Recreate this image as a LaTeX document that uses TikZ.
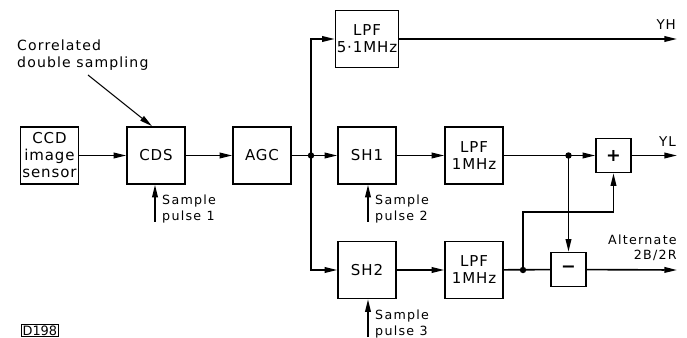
\documentclass[tikz,border=0pt]{standalone}
\usepackage{fontspec}
\setmainfont{DejaVu Sans}[LetterSpace=6]
\usetikzlibrary{arrows.meta,positioning}

\begin{document}
\begin{tikzpicture}[
    x=0.03cm, y=-0.03cm,
    block/.style={rectangle, draw, line width=1.4pt, minimum width=1.74cm, minimum height=1.71cm, align=center, inner sep=1pt, font=\fontsize{12.8}{14.5}\selectfont},
    smallbox/.style={rectangle, draw, line width=1.4pt, minimum width=1.05cm, minimum height=1.02cm, inner sep=0pt, font=\fontsize{15}{15}\selectfont\bfseries},
    note/.style={align=left, inner sep=0pt, font=\fontsize{10.8}{13}\selectfont\addfontfeatures{LetterSpace=10}},
    arrow/.style={-{Triangle[length=3.8mm, width=1.7mm]}, line width=1.4pt},
    line/.style={line width=1.4pt},
    dot/.style={circle, fill, inner sep=0pt, minimum size=5.5pt}
]
\useasboundingbox (0,0) rectangle (687,338);

% Main chain
\node[block] (ccd) at (49.5,155.5) {CCD\\image\\sensor};
\node[block] (cds) at (156,155.5) {CDS};
\node[block] (agc) at (262,155.5) {AGC};

% Three branches
\node[block] (lpfh) at (367,39) {LPF\\5·1MHz};
\node[block] (sh1) at (367,155.5) {SH1};
\node[block] (lpfa) at (474,155.5) {LPF\\1MHz};
\node[block] (sh2) at (367,270) {SH2};
\node[block] (lpfb) at (474,270) {LPF\\1MHz};
\node[smallbox] (add) at (613.5,155.5) {+};
\node[smallbox] (sub) at (568.5,269.5) {−};

% Junctions and outputs
\node[dot] (j1) at (311,155.5) {};
\node[dot] (j2) at (568.5,155.5) {};
\node[dot] (j3) at (523,270) {};
\coordinate (yh) at (677,39);
\coordinate (yl) at (677,155.5);
\coordinate (alt) at (677,270);

% Connections
\draw[arrow] (ccd) -- (cds);
\draw[arrow] (cds) -- (agc);
\draw[line] (agc) -- (j1.center);
\draw[arrow] (j1.center) -- (sh1);
\draw[arrow] (j1.center) |- (lpfh);
\draw[arrow] (j1.center) |- (sh2);
\draw[arrow] (lpfh) -- (yh);
\draw[arrow] (sh1) -- (lpfa);
\draw[arrow] (lpfa) -- (add);
\draw[arrow] (add) -- (yl);
\draw[arrow] (j2.center) -- (sub);
\draw[arrow] (sh2) -- (lpfb);
\draw[line] (lpfb) -- (sub);
\draw[arrow] (sub) -- (alt);
\draw[arrow] (j3.center) -- ++(0,-58) -| (add);

% Sample pulses
\coordinate (sp1) at (155,222);
\coordinate (sp2) at (368,222);
\coordinate (sp3) at (368,337);
\draw[arrow] (sp1) -- (sp1 |- cds.south);
\draw[arrow] (sp2) -- (sp2 |- sh1.south);
\draw[arrow] (sp3) -- (sp3 |- sh2.south);
\node[note, anchor=north west] (sp1t) at (162,195) {Sample\\pulse 1};
\node[note, anchor=north west] (sp2t) at (375,195) {Sample\\pulse 2};
\node[note, anchor=north west] (sp3t) at (375,310) {Sample\\pulse 3};

% Annotation
\node[note, anchor=north west, font=\fontsize{12}{14}\selectfont\addfontfeatures{LetterSpace=8}] (cdsnote) at (17,40) {Correlated\\double sampling};
\coordinate (cn) at (88,75);
\draw[-{Triangle[length=3.8mm, width=1.7mm]}, line width=0.9pt] (cn) -- ([xshift=-0.12cm]cds.north);

% Output labels
\node[note, anchor=base east, font=\fontsize{11.5}{13}\selectfont] (yht) at (676,30) {YH};
\node[note, anchor=base east, font=\fontsize{11.5}{13}\selectfont] (ylt) at (676,147) {YL};
\node[note, anchor=south east, align=right] (altt) at (677,261) {Alternate\\2B/2R};

% Figure tag
\node[draw, line width=0.7pt, inner sep=1pt, anchor=south west, font=\fontsize{11}{11}\selectfont\addfontfeatures{LetterSpace=0}] (tag) at (21,337) {D198};
\end{tikzpicture}
\end{document}
